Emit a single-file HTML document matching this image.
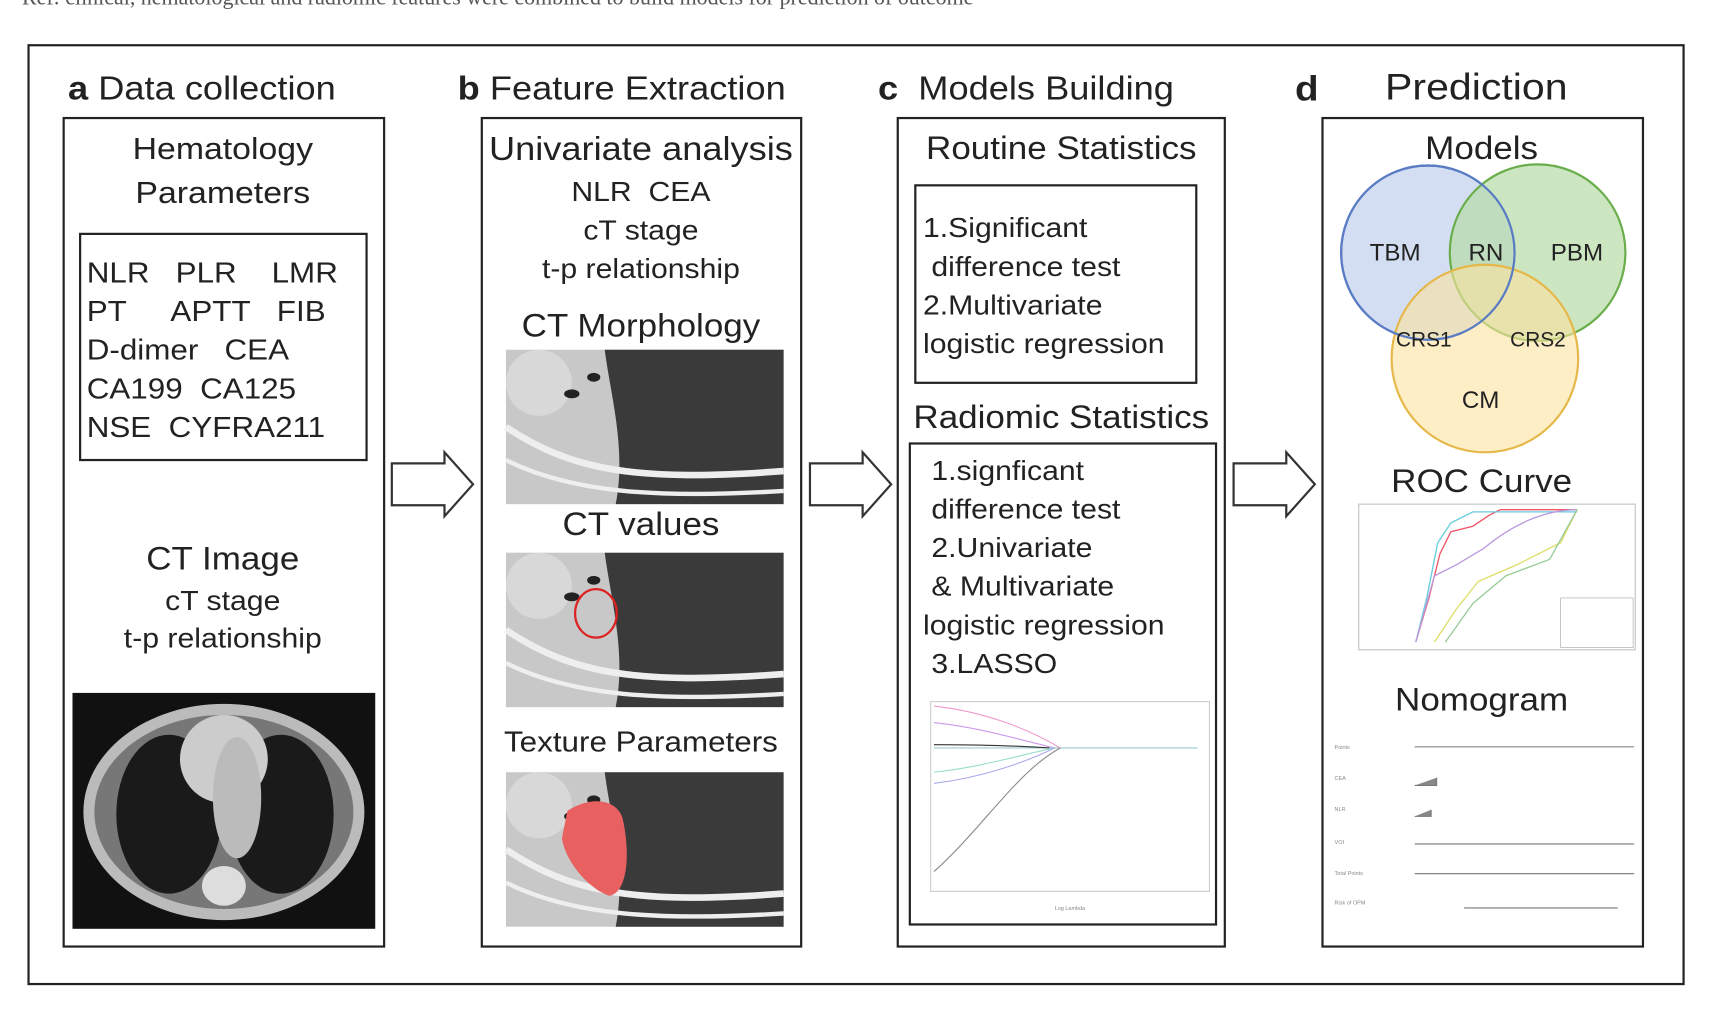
<!DOCTYPE html>
<html><head><meta charset="utf-8"><style>
html,body{margin:0;padding:0;background:#fff;width:1721px;height:1027px;overflow:hidden}
#w{position:absolute;left:0;top:0;width:1560px;height:931px;transform:scale(1.0975,1.1032);transform-origin:0 0;font-family:"Liberation Sans",sans-serif;color:#222}
.t{position:absolute;white-space:nowrap;line-height:1;transform:scaleX(1.1);transform-origin:0 0}
.c{text-align:center;transform:translateX(-50%) scaleX(1.1);transform-origin:50% 0}
.b{position:absolute;border:2px solid #222;box-sizing:border-box}
</style></head><body><div id="w">
<div class="t" style="left:20px;top:-12px;font-family:'Liberation Serif',serif;font-size:20px;color:#555;transform:none">Ref: clinical, hematological and radiomic features were combined to build models for prediction of outcome</div>
<div class="b" style="left:25px;top:40px;width:1510px;height:853px"></div>

<!-- a -->
<div class="t" style="left:62px;top:66px;font-size:30px"><b>a</b> Data collection</div>
<div class="b" style="left:57px;top:106px;width:294px;height:753px"></div>
<div class="t c" style="left:203px;top:121px;font-size:28px">Hematology</div>
<div class="t c" style="left:203px;top:161px;font-size:28px">Parameters</div>
<div class="b" style="left:72px;top:211px;width:263px;height:207px"></div>
<div class="t" style="left:79px;top:230px;font-size:26px;line-height:35px">NLR&nbsp;&nbsp;&nbsp;PLR&nbsp;&nbsp;&nbsp;&nbsp;LMR<br>PT&nbsp;&nbsp;&nbsp;&nbsp;&nbsp;APTT&nbsp;&nbsp;&nbsp;FIB<br>D-dimer&nbsp;&nbsp;&nbsp;CEA<br>CA199&nbsp;&nbsp;CA125<br>NSE&nbsp;&nbsp;CYFRA211</div>
<div class="t c" style="left:203px;top:493px;font-size:29px">CT Image</div>
<div class="t c" style="left:203px;top:533px;font-size:25px">cT stage</div>
<div class="t c" style="left:203px;top:567px;font-size:25px">t-p relationship</div>
<svg style="position:absolute;left:66px;top:628px" width="276" height="214">
<rect width="276" height="214" fill="#111"/>
<ellipse cx="138" cy="108" rx="128" ry="98" fill="#bbb"/>
<ellipse cx="138" cy="108" rx="118" ry="88" fill="#777"/>
<ellipse cx="88" cy="110" rx="48" ry="72" fill="#1a1a1a"/>
<ellipse cx="190" cy="110" rx="48" ry="72" fill="#1a1a1a"/>
<ellipse cx="138" cy="60" rx="40" ry="40" fill="#ccc"/>
<ellipse cx="150" cy="95" rx="22" ry="55" fill="#bbb"/>
<ellipse cx="138" cy="175" rx="20" ry="18" fill="#ddd"/>
</svg>

<svg style="position:absolute;left:0;top:0" width="1560" height="931">
<defs><g id="ar"><path d="M0,10 H48 V0 L74,29 L48,58 V48 H0 Z" fill="#fff" stroke="#333" stroke-width="2"/></g>
<g id="ct"><rect width="253" height="140" fill="#c8c8c8"/><path d="M100,140 C110,90 95,40 90,0 H253 V140 Z" fill="#3a3a3a"/><path d="M0,70 C60,110 120,120 253,110" stroke="#eee" stroke-width="6" fill="none"/><path d="M0,100 C60,130 140,135 253,128" stroke="#eee" stroke-width="4" fill="none"/><ellipse cx="30" cy="30" rx="30" ry="30" fill="#d8d8d8"/><ellipse cx="60" cy="40" rx="7" ry="4" fill="#222"/><ellipse cx="80" cy="25" rx="6" ry="4" fill="#222"/></g></defs>
<use href="#ar" x="357" y="410"/><use href="#ar" x="738" y="410"/><use href="#ar" x="1124" y="410"/>
<use href="#ct" x="461" y="317"/><use href="#ct" x="461" y="501"/><use href="#ct" x="461" y="700"/>
<ellipse cx="543" cy="556" rx="19" ry="22" fill="none" stroke="#d22" stroke-width="2"/>
<path d="M517,735 C540,720 565,725 568,745 C575,780 570,810 555,812 C535,805 515,780 512,760 Z" fill="#e86060"/>
</svg>

<!-- b -->
<div class="t" style="left:417px;top:66px;font-size:30px"><b>b</b> Feature Extraction</div>
<div class="b" style="left:438px;top:106px;width:293px;height:753px"></div>
<div class="t c" style="left:584px;top:121px;font-size:30px">Univariate analysis</div>
<div class="t c" style="left:584px;top:162px;font-size:25px">NLR&nbsp;&nbsp;CEA</div>
<div class="t c" style="left:584px;top:197px;font-size:25px">cT stage</div>
<div class="t c" style="left:584px;top:232px;font-size:25px">t-p relationship</div>
<div class="t c" style="left:584px;top:282px;font-size:29px">CT Morphology</div>
<div class="t c" style="left:584px;top:462px;font-size:29px">CT values</div>
<div class="t c" style="left:584px;top:659px;font-size:26px">Texture Parameters</div>

<!-- c -->
<div class="t" style="left:800px;top:66px;font-size:30px"><b>c</b>&nbsp; Models Building</div>
<div class="b" style="left:817px;top:106px;width:300px;height:753px"></div>
<div class="t c" style="left:967px;top:121px;font-size:29px">Routine Statistics</div>
<div class="b" style="left:833px;top:167px;width:258px;height:181px"></div>
<div class="t" style="left:841px;top:190px;font-size:25px;line-height:35px">1.Significant<br>&nbsp;difference test<br>2.Multivariate<br>logistic regression</div>
<div class="t c" style="left:967px;top:365px;font-size:29px">Radiomic Statistics</div>
<div class="b" style="left:828px;top:401px;width:281px;height:438px"></div>
<div class="t" style="left:841px;top:410px;font-size:25px;line-height:35px">&nbsp;1.signficant<br>&nbsp;difference test<br>&nbsp;2.Univariate<br>&nbsp;&amp; Multivariate<br>logistic regression<br>&nbsp;3.LASSO</div>
<svg style="position:absolute;left:836px;top:620px" width="268" height="212" font-size="5" fill="#888">
<rect x="12" y="16" width="254" height="172" fill="none" stroke="#ccc"/>
<path d="M15,58 H255" stroke="#9cc" stroke-width="1"/>
<path d="M15,20 C60,25 100,40 130,58" stroke="#e9c" fill="none"/>
<path d="M15,35 C60,40 90,50 125,58" stroke="#c9e" fill="none"/>
<path d="M15,80 C60,75 90,65 125,58" stroke="#9dc" fill="none"/>
<path d="M15,90 C60,85 100,70 125,58" stroke="#aae" fill="none"/>
<path d="M15,170 C60,130 90,80 130,58" stroke="#888" fill="none"/>
<path d="M15,55 C50,55 90,56 120,58" stroke="#333" fill="none"/>
<text x="125" y="205">Log Lambda</text>
</svg>

<!-- d -->
<div class="t" style="left:1180px;top:64px;font-size:32px"><b>d</b></div>
<div class="t" style="left:1262px;top:62px;font-size:34px">Prediction</div>
<div class="b" style="left:1204px;top:106px;width:294px;height:753px"></div>
<div class="t c" style="left:1350px;top:121px;font-size:29px">Models</div>
<svg style="position:absolute;left:1204px;top:140px" width="294" height="280" font-family="Liberation Sans" font-size="22" fill="#222">
<circle cx="97" cy="89" r="79" fill="#c8d6ef" fill-opacity=".8" stroke="#5a7cc4" stroke-width="2"/>
<circle cx="197" cy="89" r="80" fill="#b8dca8" fill-opacity=".7" stroke="#6aae4c" stroke-width="2"/>
<circle cx="149" cy="185" r="85" fill="#fbe3a0" fill-opacity=".6" stroke="#e6b84a" stroke-width="2"/>
<circle cx="97" cy="89" r="79" fill="none" stroke="#5a7cc4" stroke-width="2"/>
<text x="44" y="96">TBM</text><text x="134" y="96">RN</text><text x="209" y="96">PBM</text>
<text x="68" y="174" font-size="19">CRS1</text><text x="172" y="174" font-size="19">CRS2</text><text x="128" y="230">CM</text>
</svg>
<div class="t c" style="left:1350px;top:423px;font-size:29px">ROC Curve</div>
<svg style="position:absolute;left:1222px;top:452px" width="272" height="160" stroke-width="1.2" fill="none">
<rect x="16" y="5" width="252" height="132" stroke="#ccc"/>
<path d="M68,130 L80,90 L90,50 L100,30 L120,25 L135,15 L145,10 H215" stroke="#e56"/>
<path d="M68,130 L78,90 L88,40 L100,22 L120,12 H215" stroke="#6cd"/>
<path d="M68,130 L85,70 L105,60 L130,45 C160,20 190,10 215,10" stroke="#b9d"/>
<path d="M85,130 L105,100 L125,75 L160,60 L200,40 L215,10" stroke="#dd6"/>
<path d="M95,130 L120,95 L150,70 L190,55 L215,10" stroke="#9c9"/>
<rect x="200" y="90" width="66" height="45" stroke="#aaa" stroke-width=".6" fill="#fff"/>
</svg>
<div class="t c" style="left:1350px;top:621px;font-size:29px">Nomogram</div>
<svg style="position:absolute;left:1214px;top:660px" width="280" height="180" stroke="#777" stroke-width="1" font-size="5" fill="#888">
<path d="M75,17 H275 M75,105 H275 M75,132 H275 M120,163 H260"/>
<path d="M75,52 H95 V45 M75,80 H90 V74"/>
<text x="2" y="19" stroke="none">Points</text><text x="2" y="47" stroke="none">CEA</text><text x="2" y="75" stroke="none">NLR</text><text x="2" y="105" stroke="none">VOI</text><text x="2" y="133" stroke="none">Total Points</text><text x="2" y="160" stroke="none">Risk of OPM</text>
</svg>
</div></body></html>
